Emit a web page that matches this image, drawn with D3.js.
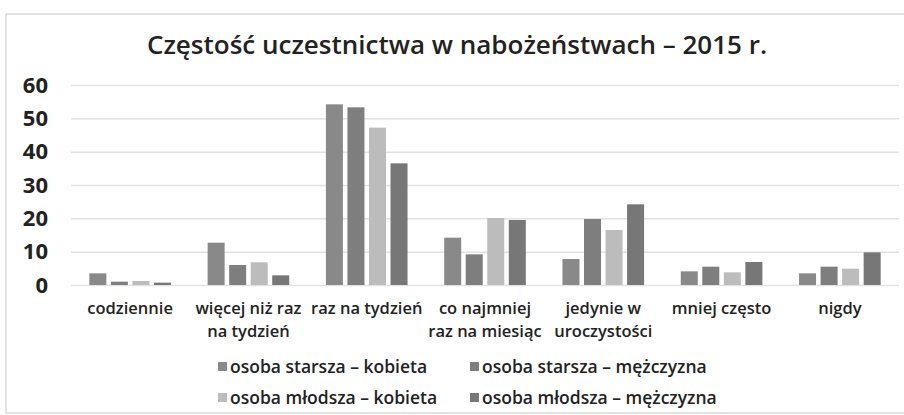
<!DOCTYPE html>
<html>
<head>
<meta charset="utf-8">
<script src="https://cdn.jsdelivr.net/npm/d3@7"></script>
<style>
  html, body { margin: 0; padding: 0; background: #fff; }
  svg { display: block; }
  text { font-family: "Open Sans", "Liberation Sans", sans-serif; fill: #222; }
</style>
</head>
<body>
<svg id="chart" width="904" height="415"></svg>
<script>
const categories = [
  ["codziennie"],
  ["więcej niż raz", "na tydzień"],
  ["raz na tydzień"],
  ["co najmniej", "raz na miesiąc"],
  ["jedynie w", "uroczystości"],
  ["mniej często"],
  ["nigdy"]
];
const seriesNames = [
  "osoba starsza – kobieta",
  "osoba starsza – mężczyzna",
  "osoba młodsza – kobieta",
  "osoba młodsza – mężczyzna"
];
const starszaKobieta   = [3.5, 12.7, 54.2, 14.2, 7.8, 4.1, 3.5];
const starszaMezczyzna = [1.0, 6.0, 53.3, 9.2, 19.8, 5.5, 5.5];
const mlodszaKobieta   = [1.2, 6.8, 47.2, 20.1, 16.5, 3.8, 4.9];
const mlodszaMezczyzna = [0.7, 2.9, 36.5, 19.5, 24.2, 6.9, 9.8];
const yTicks = [0, 10, 20, 30, 40, 50, 60];
const title = "Częstość uczestnictwa w nabożeństwach – 2015 r.";

const seriesValues = [starszaKobieta, starszaMezczyzna, mlodszaKobieta, mlodszaMezczyzna];
const colors = ["#898989", "#7e7e7e", "#bcbcbc", "#777777"];

const svg = d3.select("#chart");
const catKeys = categories.map(c => c.join(" "));

// frame
svg.append("rect").attr("x", 6).attr("y", 14).attr("width", 910).attr("height", 399)
  .attr("fill", "#fff").attr("stroke", "#d9d9d9").attr("stroke-width", 1.5);

const x0 = d3.scaleBand().domain(catKeys).range([71, 899]).paddingInner(0.31).paddingOuter(0.155);
const x1 = d3.scaleBand().domain(d3.range(4)).range([0, x0.bandwidth()]).paddingInner(0.21).paddingOuter(0);
const y = d3.scaleLinear().domain([0, 60]).range([285, 85]);

// gridlines + y labels
const yAxis = d3.axisLeft(y).tickValues(yTicks).tickSize(-(899 - 71)).tickPadding(23);
const gy = svg.append("g").attr("transform", "translate(71,0)").call(yAxis);
gy.select(".domain").remove();
gy.selectAll(".tick line").attr("stroke", "#e2e2e2").attr("stroke-width", 1.5);
gy.selectAll(".tick text").attr("font-size", 22).attr("font-weight", "bold")
  .style("font-family", "'Open Sans', sans-serif").attr("fill", "#222");

// bars
const groups = svg.append("g").selectAll("g").data(catKeys).join("g")
  .attr("transform", d => `translate(${x0(d)},0)`);
groups.selectAll("rect").data((d, i) => seriesValues.map((s, k) => ({k, v: s[i]})))
  .join("rect")
  .attr("x", d => x1(d.k))
  .attr("width", x1.bandwidth())
  .attr("y", d => y(d.v))
  .attr("height", d => y(0) - y(d.v))
  .attr("fill", d => colors[d.k]);

// x labels
const xl = svg.append("g");
categories.forEach((lines, i) => {
  const cx = x0(catKeys[i]) + x0.bandwidth() / 2;
  lines.forEach((ln, j) => {
    xl.append("text").attr("x", cx).attr("y", 314 + j * 23)
      .attr("text-anchor", "middle").attr("font-size", 16.5).attr("font-weight", 600).text(ln);
  });
});

// title
svg.append("text").attr("x", 457).attr("y", 54).attr("text-anchor", "middle")
  .attr("font-size", 26).attr("font-weight", 600).text(title);

// legend
const legPos = [[218, 373], [470, 373], [218, 404], [470, 404]];
seriesNames.forEach((name, k) => {
  const [lx, ly] = legPos[k];
  svg.append("rect").attr("x", lx).attr("y", ly - 11).attr("width", 9).attr("height", 9).attr("fill", colors[k]);
  svg.append("text").attr("x", lx + 12).attr("y", ly).attr("font-size", 17.5).attr("font-weight", 600).text(name);
});
</script>
</body>
</html>
